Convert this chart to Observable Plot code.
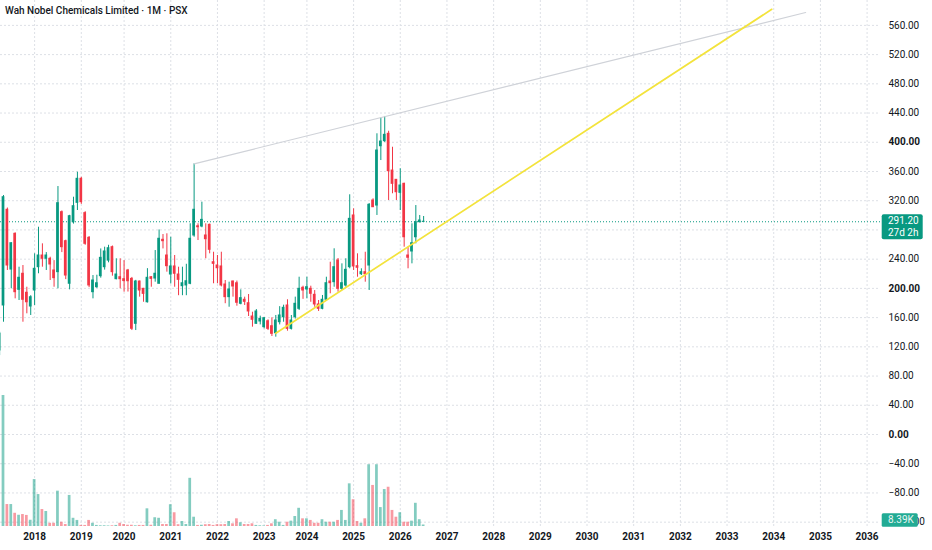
<!DOCTYPE html>
<html>
<head>
<meta charset="utf-8">
<script src="https://cdn.jsdelivr.net/npm/d3@7"></script>
<script src="https://cdn.jsdelivr.net/npm/@observablehq/plot@0.6"></script>
<style>
  html, body { margin: 0; padding: 0; background: #fff; }
  #wrap { position: relative; width: 932px; height: 550px; overflow: hidden; background: #fff; }
  #wrap svg { position: absolute; left: 0; top: 0; }
  #title { position: absolute; left: 5px; top: 5px; font: 500 10px Roboto, sans-serif; color: #131722; white-space: nowrap; }
</style>
</head>
<body>
<div id="wrap"><div id="title"></div></div>
<script>
// ---------------- data ----------------
const title = "Wah Nobel Chemicals Limited · 1M · PSX";
const firstBar = -1; // bar index of first element (monthly bars)
const open = [115,
  176.6, 307.6, 225.8, 274.7, 198, 220, 194, 175.2, 197.1, 229,
  245, 240.5, 240.5, 224.5, 222.2, 304.3, 264.6, 206.3, 290.6, 317.1,
  350, 303, 269.2, 194.8, 201.6, 216.7, 229, 238, 256.4, 212.6,
  215.3, 212.6, 224.5, 213, 151.5, 209.4, 199.4, 181, 215.3, 213.5,
  206.3, 266.5, 245, 219, 230, 219, 203, 204, 206.3, 272.4,
  285, 284.7, 272.4, 287, 235.8, 231.3, 230, 205.3, 188, 209.4,
  207, 178.9, 184.4, 179.7, 161.5, 151.5, 154.7, 146.9, 155, 148.2,
  138.6, 153.7, 160.5, 176.6, 144.6, 160.5, 172, 200.8, 198.5, 199.4,
  191.2, 178, 172, 184.4, 209.4, 208.5, 238.2, 199.4, 203.9, 229,
  299.8, 230.4, 219.4, 222.2, 231.3, 320.3, 313.4, 394.6, 401.5, 411.6,
  361.3, 348.6, 330.8, 343.1, 245, 250.5, 270, 290.6, 291];
const high = [140,
  327.1, 310, 262.5, 276, 229, 231.3, 201.6, 190, 247.3, 283.7,
  261, 249, 242.7, 238, 339.4, 306, 266, 300, 324.8, 359,
  352, 305, 271, 217.6, 218, 254, 256.4, 259, 258, 240.5,
  240.5, 238, 226, 215, 211, 210, 200, 227, 216, 251.8,
  280, 273.7, 274.7, 270, 245, 229, 229, 233, 288.4, 370.5,
  288.4, 318, 288.4, 288, 249.5, 245, 249.5, 210.8, 208.5, 210,
  210, 198, 188, 191.6, 167.4, 171, 162, 160, 157, 159.7,
  162.9, 175, 177, 184.4, 162.9, 188, 215.3, 203, 215.3, 203,
  197, 183.4, 190.3, 215.3, 235.8, 254.2, 240.9, 233.6, 240.5, 328.1,
  308.9, 247.3, 226.8, 249.5, 316.2, 322.6, 411.6, 433.5, 435.3, 415.1,
  393.2, 349, 363.7, 344, 256.4, 288.4, 313.4, 299.8, 298.4];
const low = [108,
  153.7, 224.5, 199.4, 185.7, 183.4, 153.7, 165.2, 162.9, 176.6, 220,
  229, 224.5, 210.8, 201.6, 199.4, 249, 212, 198, 288, 306.6,
  315, 259, 201, 185.7, 200, 214, 225, 235, 216.7, 211.7,
  199.4, 194.8, 195, 142.3, 142.3, 188, 181, 180, 201.6, 208.5,
  206, 254, 222.2, 206, 201.6, 190, 190, 190, 205, 270,
  265.5, 283, 240.5, 247.3, 206.3, 206.3, 202, 179, 174.2, 188,
  175.6, 177.5, 176.6, 161.5, 146.9, 151, 150, 144.6, 142.3, 134.1,
  133.2, 150, 153.7, 141.4, 143, 158, 169.7, 185, 185.7, 181,
  174.2, 168.4, 170.7, 183.4, 192.6, 201.6, 194.8, 197.1, 201.6, 226.8,
  224.5, 215.3, 217.6, 208.5, 197.1, 310.7, 299.8, 375, 399.7, 320.3,
  329.5, 320.3, 306.6, 256.4, 226.8, 233.6, 261, 289.5, 290.6];
const close = [138,
  324.8, 231.3, 261.8, 194.8, 214.5, 184.4, 181, 187.9, 226.8, 245,
  240.5, 245, 232.7, 214, 316.6, 256.4, 217.6, 298.8, 312.5, 350,
  318, 261, 204, 210.8, 207, 241.8, 250.5, 255, 222.2, 219,
  212.6, 210, 209.8, 144.7, 209.4, 197.1, 192.5, 214.5, 213, 220,
  267.9, 264.6, 230.4, 230, 220, 211.7, 207, 209.8, 267.9, 307.6,
  283.7, 293.8, 267.3, 252.8, 233.6, 227.6, 204, 188, 198.5, 202.6,
  180.3, 186.6, 181.6, 168.4, 157, 168.4, 158.3, 159.2, 144.6, 137.8,
  156, 162.9, 173.4, 144.6, 156, 178.9, 199.4, 197.1, 201.6, 192.6,
  178, 172, 184.4, 207.1, 207.1, 229, 199.4, 207.1, 225.4, 295.2,
  230, 228.2, 222.2, 219.4, 314.4, 311.1, 388.7, 401, 410.2, 360.4,
  343.1, 331.6, 340.8, 270, 241.9, 261.8, 290.6, 292.9, 291.2];
const volumeK = [0,
  734, 123, 123, 74, 63, 67, 62, 35, 263, 179,
  95, 84, 18, 18, 198, 24, 11, 174, 46, 34,
  6, 6, 34, 18, 6, 4, 4, 3, 4, 6,
  18, 11, 7, 7, 4, 6, 6, 99, 7, 49,
  46, 11, 11, 122, 77, 10, 28, 11, 270, 52,
  6, 7, 10, 11, 6, 10, 10, 11, 28, 15,
  43, 21, 11, 11, 15, 6, 4, 3, 6, 15,
  38, 24, 6, 24, 30, 56, 102, 43, 43, 34,
  18, 18, 38, 24, 24, 24, 34, 90, 34, 239,
  150, 28, 18, 43, 346, 230, 346, 106, 207, 220,
  90, 52, 77, 24, 24, 30, 130, 38, 8.39];

const yearLabels = ["2018","2019","2020","2021","2022","2023","2024","2025","2026","2027","2028","2029","2030","2031","2032","2033","2034","2035","2036"];
const yearBars   = [8, 20, 31, 43, 55, 67, 78, 90, 102, 114, 126, 138, 150, 162, 174, 186, 198, 210, 222];
const priceTicks = [-120, -80, -40, 0, 40, 80, 120, 160, 200, 240, 280, 320, 360, 400, 440, 480, 520, 560];
const boldTicks  = [0, 200, 400];
const hiddenTicks = [280]; // covered by last price label
const lastPrice = 291.20;
const countdown = "27d 2h";
const lastVolumeLabel = "8.39K";
const lastVolume = 8.39;
const grayLineBars = [49, 206.2];
const grayLinePrices = [370.5, 577.6];
const yellowLineBars = [70, 197.5];
const yellowLinePrices = [138.6, 582];

// ---------------- build ----------------
const UP = "#089981", DOWN = "#f23645";
const bars = open.map((o, k) => ({bar: firstBar + k, o, h: high[k], l: low[k], c: close[k], v: volumeK[k], up: close[k] >= o}));
const upBars = bars.filter(d => d.up), downBars = bars.filter(d => !d.up);
const grayLine = grayLineBars.map((b, k) => ({b, p: grayLinePrices[k]}));
const yellowLine = yellowLineBars.map((b, k) => ({b, p: yellowLinePrices[k]}));

const W = 932, H = 550, MR = 52, MB = 24;
const barStep = 3.89, bar0X = 3;
const xDomain = [-bar0X / barStep, (W - MR - bar0X) / barStep];
const yDomain = [-125.93, 594.05];
const half = 0.35;
const fmt = d => (d < 0 ? "\u2212" : "") + Math.abs(d).toFixed(2);
const gridStyle = {stroke: "#dde0e6", strokeDasharray: "2,2", strokeWidth: 1};

const main = Plot.plot({
  width: W, height: H,
  marginLeft: 0, marginRight: MR, marginTop: 0, marginBottom: MB,
  x: {type: "linear", domain: xDomain, axis: null},
  y: {domain: yDomain, axis: null},
  style: {fontFamily: "Roboto, sans-serif", background: "transparent", color: "#131722"},
  marks: [
    Plot.ruleY(priceTicks, gridStyle),
    Plot.ruleX(yearBars, gridStyle),
    Plot.ruleY([lastPrice], {stroke: UP, strokeDasharray: "1,2", strokeWidth: 1}),
    Plot.ruleX(upBars, {x: "bar", y1: "l", y2: "h", stroke: UP, strokeWidth: 1}),
    Plot.ruleX(downBars, {x: "bar", y1: "l", y2: "h", stroke: DOWN, strokeWidth: 1}),
    Plot.rect(upBars, {x1: d => d.bar - half, x2: d => d.bar + half, y1: "o", y2: "c", fill: UP, insetTop: -0.5, insetBottom: -0.5}),
    Plot.rect(downBars, {x1: d => d.bar - half, x2: d => d.bar + half, y1: "o", y2: "c", fill: DOWN, insetTop: -0.5, insetBottom: -0.5}),
    Plot.line(grayLine, {x: "b", y: "p", stroke: "#cfd2d8", strokeWidth: 1.2}),
    Plot.line(yellowLine, {x: "b", y: "p", stroke: "#f3e33c", strokeWidth: 1.7}),
    Plot.text(priceTicks.filter(d => !boldTicks.includes(d) && !hiddenTicks.includes(d)), {
      y: d => d, text: fmt, frameAnchor: "right", dx: 8, textAnchor: "start", fontSize: 10, fill: "#131722"}),
    Plot.text(boldTicks, {
      y: d => d, text: fmt, frameAnchor: "right", dx: 8, textAnchor: "start", fontSize: 10, fontWeight: "bold", fill: "#131722"}),
    Plot.text(yearLabels, {
      x: (d, i) => yearBars[i], text: d => d, frameAnchor: "bottom", dy: 13, fontSize: 10, fontWeight: "bold", fill: "#131722"})
  ]
});

const vol = Plot.plot({
  width: W, height: H,
  marginLeft: 0, marginRight: MR, marginTop: 0, marginBottom: MB,
  x: {type: "linear", domain: xDomain, axis: null},
  y: {domain: [0, 734], range: [H - MB, H - MB - 131], axis: null},
  style: {background: "transparent"},
  marks: [
    Plot.rect(upBars, {x1: d => d.bar - half, x2: d => d.bar + half, y1: d => 0, y2: "v", fill: UP, fillOpacity: 0.5}),
    Plot.rect(downBars, {x1: d => d.bar - half, x2: d => d.bar + half, y1: d => 0, y2: "v", fill: DOWN, fillOpacity: 0.5})
  ]
});

const wrap = document.getElementById("wrap");
wrap.insertBefore(main, wrap.firstChild);
wrap.insertBefore(vol, document.getElementById("title"));
document.getElementById("title").textContent = title;

// last price label and last volume label on the price scale
const svg = d3.select(main);
const g = svg.append("g").attr("text-anchor", "start").attr("font-family", "Roboto, sans-serif").attr("font-size", 10);
const py = main.scale("y").apply(lastPrice);
const boxX = W - MR + 1.7;
const tx = W - MR + 8;
g.append("rect").attr("x", boxX).attr("y", py - 7).attr("width", 41).attr("height", 25).attr("rx", 2).attr("fill", UP);
g.append("text").attr("x", tx).attr("y", py + 0.5).attr("dominant-baseline", "middle").attr("text-anchor", "start")
  .attr("fill", "#fff").text(lastPrice.toFixed(2));
g.append("text").attr("x", tx).attr("y", py + 12.5).attr("dominant-baseline", "middle").attr("text-anchor", "start")
  .attr("fill", "#fff").text(countdown);

const vy = vol.scale("y").apply(lastVolume);
const vTop = Math.min(vy - 6.7, H - MB + 0.7 - 13.4);
g.append("rect").attr("x", boxX).attr("y", vTop).attr("width", 36).attr("height", 13.4).attr("rx", 1.5).attr("fill", "#22ab94");
g.append("text").attr("x", tx).attr("y", vTop + 6.9).attr("dominant-baseline", "middle").attr("text-anchor", "start")
  .attr("fill", "#e9f6f3").text(lastVolumeLabel);
</script>
</body>
</html>
